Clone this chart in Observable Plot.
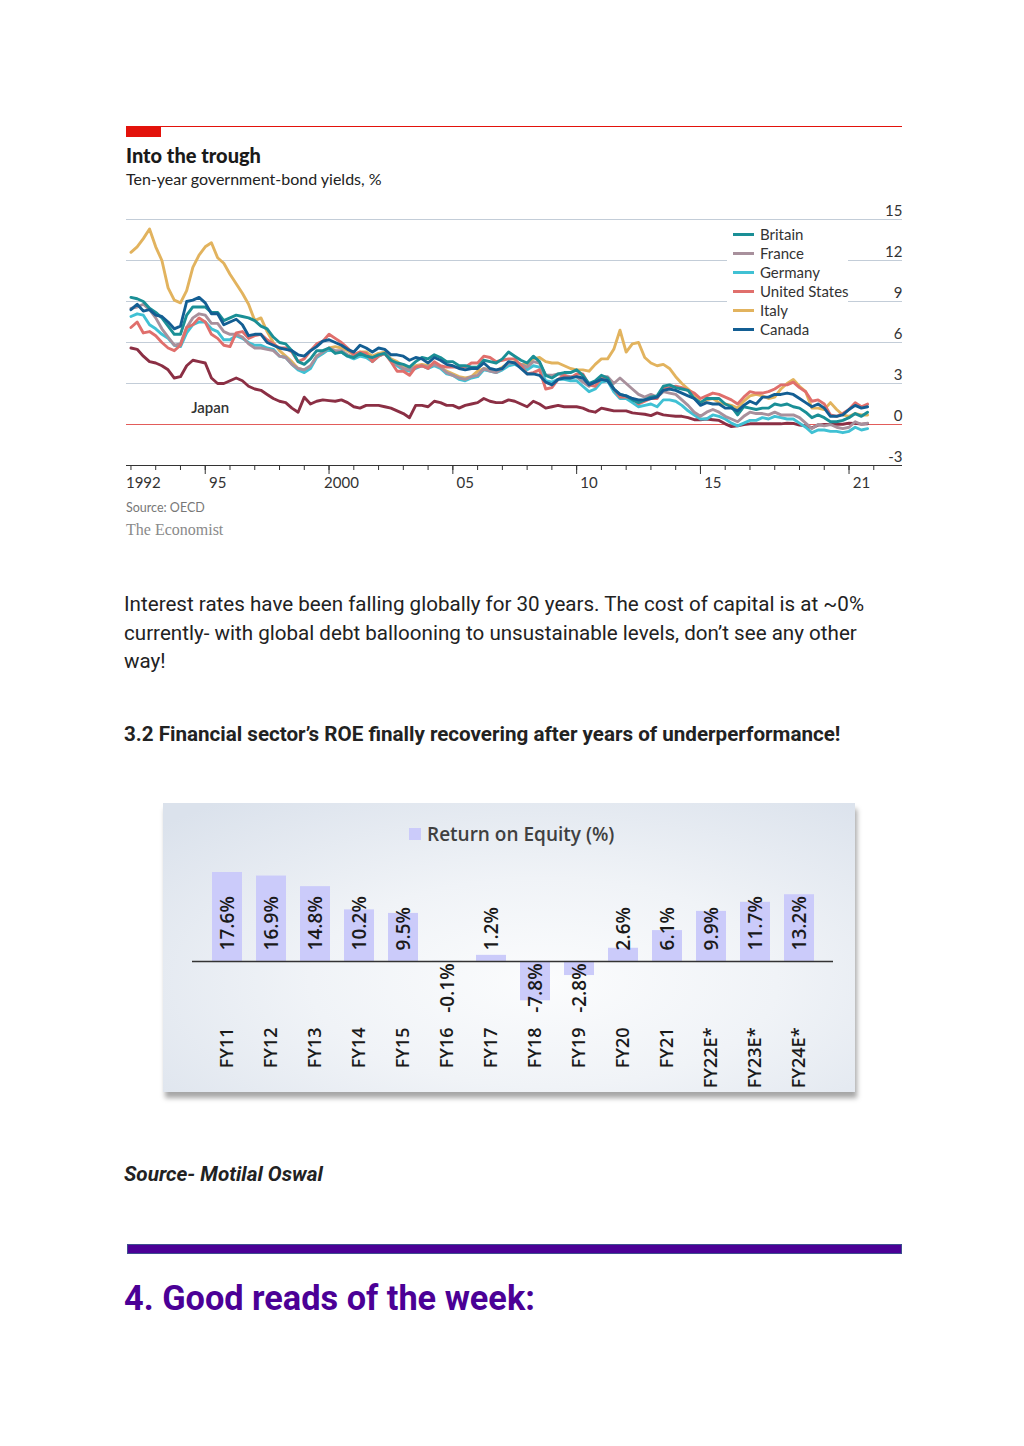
<!DOCTYPE html>
<html><head><meta charset="utf-8">
<script src="https://cdn.jsdelivr.net/npm/d3@7"></script>
<script src="https://cdn.jsdelivr.net/npm/@observablehq/plot@0.6"></script>
<style>
html,body{margin:0;padding:0;background:#fff;}
body{width:1024px;height:1446px;position:relative;overflow:hidden;font-family:Roboto,sans-serif;}
.abs{position:absolute;white-space:nowrap;}
.econ{font-family:Lato,sans-serif;}
#legend{position:absolute;left:727px;top:226px;width:121px;height:112px;background:#fff;font:15px Lato,sans-serif;color:#333;}
#legend .row{position:absolute;left:6px;height:19px;line-height:19px;white-space:nowrap;}
#legend .sw{display:inline-block;width:21px;height:3px;vertical-align:middle;margin-right:6px;position:relative;top:-1px;}
#roebox{position:absolute;left:163px;top:803px;width:692px;height:289px;
 background:radial-gradient(ellipse 75% 80% at 55% 62%, #fbfcfd 0%, #f0f3f7 45%, #dbe2ec 100%);
 box-shadow:2px 6px 5px rgba(0,0,0,0.35);}
</style></head><body>

<div class="abs" style="left:126px;top:126px;width:776px;height:1px;background:#e3120b"></div>
<div class="abs" style="left:126px;top:127px;width:35px;height:10px;background:#e3120b"></div>
<div class="abs econ" style="left:126px;top:143px;font-size:20px;line-height:24px;font-weight:900;color:#1a1a1a">Into the trough</div>
<div class="abs econ" style="left:126px;top:169px;font-size:16px;line-height:20px;color:#222">Ten-year government-bond yields, %</div>

<div id="econchart" class="abs" style="left:126px;top:200px;"></div>
<div id="legend"></div>

<div class="abs econ" style="left:126px;top:500px;font-size:12.5px;line-height:16px;color:#777">Source: OECD</div>
<div class="abs" style="left:126px;top:521px;font-family:'Liberation Serif',serif;font-size:16px;line-height:18px;color:#8a8a8a">The Economist</div>

<div class="abs" style="left:124px;top:590px;font-size:20.6px;line-height:28.5px;color:#222">Interest rates have been falling globally for 30 years. The cost of capital is at ~0%<br>currently- with global debt ballooning to unsustainable levels, don’t see any other<br>way!</div>

<div class="abs" style="left:124px;top:720px;font-size:20.6px;line-height:28px;font-weight:bold;color:#222">3.2 Financial sector’s ROE finally recovering after years of underperformance!</div>

<div id="roebox">
  <div class="abs" style="left:246px;top:25px;width:12px;height:12px;background:#cbcbfa"></div>
  <div class="abs" style="left:264px;top:19px;font-family:'Open Sans',sans-serif;font-weight:600;font-size:19px;line-height:24px;color:#404040">Return on Equity (%)</div>
  <div id="roechart" class="abs" style="left:0;top:0"></div>
</div>

<div class="abs" style="left:124px;top:1160px;font-size:20.7px;line-height:28px;font-weight:bold;font-style:italic;color:#222">Source- Motilal Oswal</div>

<div class="abs" style="left:127px;top:1244px;width:773px;height:8px;background:#4b0096;border:1px solid #3d4f8f"></div>

<div class="abs" style="left:124px;top:1276px;font-size:34.3px;line-height:44px;font-weight:bold;color:#4b0096">4. Good reads of the week:</div>

<script>
// ---------- Chart 1: ten-year government-bond yields (quarterly readings, 1992Q1..2021Q4) ----------
const startYear = 1992;
const seriesNames = ["Britain","France","Germany","United States","Italy","Canada","Japan"];
const seriesColors = ["#1a8f96","#a8909c","#40c1d4","#e06f6c","#e2b35e","#135e93","#8b2f44"];

const britain = [
9.3,9.2,9.0,8.5, 8.2,7.8,7.2,6.6, 6.6,8.0,8.6,8.6, 8.6,8.2,8.2,7.6, 7.8,8.0,7.9,7.8,
7.6,7.2,7.0,6.4, 6.0,5.9,5.4,4.6, 4.4,4.8,5.4,5.4, 5.6,5.2,5.3,5.0, 4.9,5.2,5.0,4.9,
5.1,5.2,4.7,4.5, 4.4,4.2,4.6,4.9, 4.8,5.1,4.9,4.6, 4.6,4.3,4.3,4.2, 4.2,4.7,4.6,4.5,
4.8,5.3,5.0,4.7, 4.5,5.0,4.6,3.6, 3.4,3.7,3.8,3.8, 4.0,3.6,3.0,3.2, 3.6,3.4,2.6,2.2,
2.1,1.8,1.6,1.8, 2.0,2.1,2.8,2.9, 2.7,2.6,2.5,1.9, 1.6,1.9,1.9,1.9, 1.5,1.3,0.7,1.3,
1.2,1.1,1.2,1.2, 1.5,1.4,1.5,1.3, 1.2,0.9,0.5,0.7, 0.5,0.2,0.2,0.3, 0.5,0.8,0.6,0.9];

const france = [
8.5,8.6,8.8,8.4, 7.8,7.0,6.4,5.8, 5.9,7.1,7.8,8.1, 8.0,7.4,7.4,6.8, 6.6,6.6,6.4,5.9,
5.6,5.6,5.5,5.4, 5.0,4.9,4.4,4.1, 4.0,4.3,5.0,5.3, 5.6,5.4,5.4,5.1, 4.9,5.2,5.1,4.8,
5.1,5.2,4.7,4.4, 4.1,4.0,4.2,4.3, 4.2,4.4,4.2,3.8, 3.6,3.4,3.3,3.5, 3.6,4.1,3.9,3.8,
4.1,4.5,4.5,4.4, 4.2,4.6,4.5,3.6, 3.6,3.7,3.6,3.5, 3.5,3.1,2.8,3.1, 3.5,3.5,3.0,3.4,
3.0,2.6,2.2,2.0, 2.2,2.0,2.4,2.3, 2.2,1.8,1.4,0.9, 0.6,0.9,1.1,0.9, 0.6,0.4,0.2,0.6,
0.9,0.8,0.8,0.7, 0.9,0.7,0.7,0.7, 0.5,0.1,-0.3,0.0, -0.1,0.0,-0.2,-0.3, -0.2,0.2,0.0,0.1];

const germany = [
7.9,8.1,8.0,7.3, 7.0,6.6,6.3,5.8, 5.7,6.7,7.3,7.5, 7.5,7.0,6.8,6.2, 6.2,6.5,6.3,6.0,
5.8,5.8,5.6,5.5, 5.0,4.9,4.4,4.0, 3.8,4.1,4.9,5.2, 5.5,5.3,5.3,5.0, 4.8,5.0,4.9,4.6,
5.0,5.2,4.7,4.3, 4.0,3.9,4.1,4.3, 4.1,4.3,4.1,3.7, 3.6,3.3,3.2,3.4, 3.5,4.0,3.9,3.8,
4.0,4.3,4.4,4.2, 4.0,4.3,4.2,3.2, 3.1,3.3,3.3,3.2, 3.2,2.8,2.4,2.6, 3.1,3.2,2.4,1.9,
1.9,1.6,1.3,1.4, 1.5,1.3,1.8,1.8, 1.7,1.4,1.0,0.7, 0.4,0.4,0.7,0.6, 0.4,0.1,-0.1,0.1,
0.3,0.3,0.5,0.4, 0.6,0.5,0.4,0.4, 0.1,-0.2,-0.6,-0.4, -0.4,-0.5,-0.5,-0.6, -0.5,-0.2,-0.4,-0.3];

const unitedStates = [
7.1,7.5,6.7,6.8, 6.5,6.0,5.6,5.4, 5.8,7.1,7.3,7.8, 7.5,6.6,6.3,5.8, 5.7,6.7,6.8,6.3,
6.5,6.6,6.2,5.9, 5.6,5.6,5.3,4.6, 4.8,5.4,5.9,6.1, 6.6,6.3,6.0,5.6, 5.1,5.3,5.2,4.6,
5.0,5.2,4.6,3.9, 3.9,3.6,4.2,4.3, 4.1,4.6,4.3,4.2, 4.2,4.2,4.2,4.5, 4.5,5.0,4.9,4.6,
4.7,4.8,4.8,4.3, 3.7,3.8,4.0,2.6, 2.7,3.3,3.6,3.4, 3.7,3.7,2.9,2.8, 3.4,3.3,2.6,2.0,
2.0,1.9,1.5,1.7, 1.9,1.9,2.7,2.7, 2.8,2.7,2.5,2.3, 1.9,2.1,2.3,2.2, 2.0,1.8,1.5,2.0,
2.4,2.3,2.3,2.4, 2.6,2.9,2.9,3.1, 2.7,2.4,1.7,1.8, 1.5,0.7,0.6,0.8, 1.1,1.6,1.3,1.5];

const italy = [
12.6,13.0,13.6,14.3, 13.0,12.0,10.0,9.1, 8.9,9.8,11.5,12.4, 13.0,13.3,12.2,11.8, 11.0,10.3,9.6,8.8,
7.6,7.8,6.8,6.0, 5.4,5.0,4.6,4.1, 4.0,4.2,5.0,5.2, 5.6,5.7,5.6,5.4, 5.1,5.3,5.3,5.0,
5.2,5.3,4.8,4.6, 4.3,4.1,4.3,4.4, 4.3,4.4,4.2,3.9, 3.7,3.5,3.4,3.5, 3.9,4.1,4.0,3.9,
4.2,4.5,4.6,4.4, 4.4,4.8,4.9,4.6, 4.5,4.5,4.3,4.1, 4.0,4.0,3.9,4.4, 4.8,4.8,5.5,6.9,
5.3,5.9,6.0,4.9, 4.5,4.3,4.4,4.1, 3.5,3.0,2.6,2.2, 1.6,1.8,1.9,1.6, 1.5,1.4,1.2,1.7,
2.1,2.2,2.1,1.9, 2.0,2.6,3.0,3.3, 2.8,2.4,1.2,1.2, 1.1,1.6,1.1,0.7, 0.6,0.8,0.7,0.7];

const canada = [
8.4,8.8,8.3,8.4, 8.0,7.9,7.5,7.0, 7.2,9.0,9.1,9.3, 8.9,8.1,8.1,7.3, 7.5,7.7,7.3,6.5,
6.6,6.6,6.0,5.8, 5.6,5.5,5.4,5.1, 5.0,5.4,5.7,6.1, 6.2,6.0,5.8,5.5, 5.3,5.8,5.6,5.3,
5.6,5.5,5.1,5.1, 5.0,4.7,4.9,4.8, 4.5,4.9,4.7,4.4, 4.3,4.1,4.0,4.1, 4.1,4.5,4.1,4.0,
4.1,4.6,4.5,4.1, 3.7,3.7,3.6,3.1, 2.9,3.3,3.4,3.4, 3.5,3.4,2.9,3.1, 3.3,3.2,2.6,2.2,
2.1,1.9,1.8,1.8, 1.9,2.0,2.5,2.6, 2.5,2.3,2.1,1.9, 1.4,1.6,1.5,1.5, 1.2,1.2,1.0,1.4,
1.7,1.5,2.0,2.0, 2.2,2.2,2.3,2.2, 1.9,1.6,1.3,1.5, 1.2,0.6,0.6,0.7, 1.1,1.4,1.2,1.3];

const japan = [
5.6,5.5,5.0,4.6, 4.5,4.3,4.0,3.4, 3.5,4.3,4.7,4.6, 4.5,3.4,3.0,3.0, 3.2,3.4,3.2,2.8,
2.6,2.5,2.2,1.9, 1.7,1.6,1.2,0.9, 2.0,1.5,1.7,1.8, 1.75,1.7,1.8,1.6, 1.3,1.2,1.4,1.4,
1.4,1.3,1.2,1.0, 0.8,0.5,1.4,1.4, 1.3,1.7,1.6,1.4, 1.4,1.2,1.4,1.5, 1.6,1.9,1.7,1.6,
1.6,1.8,1.7,1.5, 1.3,1.7,1.5,1.2, 1.3,1.4,1.3,1.3, 1.3,1.2,1.0,0.9, 1.2,1.1,1.0,1.0,
1.0,0.85,0.8,0.75, 0.65,0.85,0.7,0.65, 0.6,0.6,0.5,0.35, 0.35,0.4,0.35,0.3, 0.05,-0.15,-0.1,0.0,
0.05,0.05,0.05,0.05, 0.05,0.05,0.1,0.08, -0.05,-0.1,-0.25,-0.05, 0.0,0.0,0.03,0.02, 0.1,0.08,0.03,0.06];

const gridValues = [15,12,9,6,3,0,-3];
const xTickYears = d3.range(1992, 2023);
const xLabelYears = [1992,1995,2000,2005,2010,2015,2021];
const xLabelTexts = ["1992","95","2000","05","10","15","21"];
const annotations = [{text:"Japan", year:1995.2, value:1.2}];

const seriesValues = {"Britain":britain,"France":france,"Germany":germany,"United States":unitedStates,"Italy":italy,"Canada":canada,"Japan":japan};
const drawOrder = ["Japan","Italy","Germany","France","United States","Britain","Canada"];
const rows = [];
for (const name of drawOrder) {
  seriesValues[name].forEach((v, i) => rows.push({country:name, year:startYear + i/4, value:v}));
}

const econ = Plot.plot({
  width:776, height:300, marginTop:19, marginBottom:35, marginLeft:0, marginRight:0,
  style:{background:"transparent", overflow:"visible", fontFamily:"Lato, sans-serif"},
  x:{domain:[1991.82, 2023.16], axis:null, label:null},
  y:{domain:[-3,15], axis:null},
  color:{domain:seriesNames, range:seriesColors},
  marks:[
    Plot.ruleY(gridValues.filter(d => d > 0), {stroke:"#c3cdd8", strokeWidth:1}),
    Plot.ruleY([0], {stroke:"#e25c5a", strokeWidth:1.2}),
    Plot.line(rows, {x:"year", y:"value", z:"country", stroke:"country", strokeWidth:2.9, strokeLinejoin:"round"}),
    Plot.ruleY([-3], {stroke:"#333", strokeWidth:1}),
    Plot.axisX({ticks:xTickYears, tickSize:5, tickFormat:()=>"", stroke:"#333", label:null}),
    Plot.axisX({ticks:xLabelYears.slice(1), tickSize:9, tickFormat:()=>"", stroke:"#333", label:null}),
    Plot.text(xLabelYears, {x:d=>d, y:-3, text:(d,i)=>xLabelTexts[i], dx:12.4, dy:18, fontSize:15, fill:"#333"}),
    Plot.text(gridValues, {x:2023.16, y:d=>d, text:d=>String(d), dy:-8, textAnchor:"end", fontSize:15, fill:"#333"}),
    Plot.text(annotations, {x:"year", y:"value", text:"text", fontSize:15, fontWeight:600, fill:"#333"})
  ]
});
document.getElementById("econchart").appendChild(econ);

const legend = document.getElementById("legend");
seriesNames.slice(0,6).forEach((n, i) => {
  const r = document.createElement("div");
  r.className = "row";
  r.style.top = (i*19 - 1.5) + "px";
  r.innerHTML = `<span class="sw" style="background:${seriesColors[i]}"></span>${n}`;
  legend.appendChild(r);
});

// ---------- Chart 2: Return on Equity ----------
const fiscalYears = ["FY11","FY12","FY13","FY14","FY15","FY16","FY17","FY18","FY19","FY20","FY21","FY22E*","FY23E*","FY24E*"];
const roeValues = [17.6,16.9,14.8,10.2,9.5,-0.1,1.2,-7.8,-2.8,2.6,6.1,9.9,11.7,13.2];
const roe = fiscalYears.map((f,i) => ({fy:f, v:roeValues[i]}));
const fmt = d => d.v.toFixed(1) + "%";

const roeChart = Plot.plot({
  width:692, height:289, marginTop:69, marginBottom:72, marginLeft:29, marginRight:22,
  style:{background:"transparent", overflow:"visible", fontFamily:"'Open Sans', sans-serif", color:"#111"},
  x:{domain:fiscalYears, padding:0.32, axis:null},
  y:{domain:[-11.7,17.6], axis:null},
  marks:[
    Plot.barY(roe, {x:"fy", y:"v", fill:"#cbcbfa"}),
    Plot.ruleY([0], {stroke:"#333", strokeWidth:1.5}),
    Plot.text(roe.filter(d => d.v >= 0), {x:"fy", y:0, text:fmt, rotate:-90, textAnchor:"start", dy:-11, fontSize:19, fontWeight:600, fill:"#1a1a1a"}),
    Plot.text(roe.filter(d => d.v < 0), {x:"fy", y:0, text:fmt, rotate:-90, textAnchor:"end", dy:2, fontSize:19, fontWeight:600, fill:"#1a1a1a"}),
    Plot.axisX({anchor:"bottom", tickSize:0, tickPadding:7, tickRotate:-90, fontSize:18, fontWeight:600, fill:"#1a1a1a", label:null})
  ]
});
document.getElementById("roechart").appendChild(roeChart);
</script>
</body></html>
